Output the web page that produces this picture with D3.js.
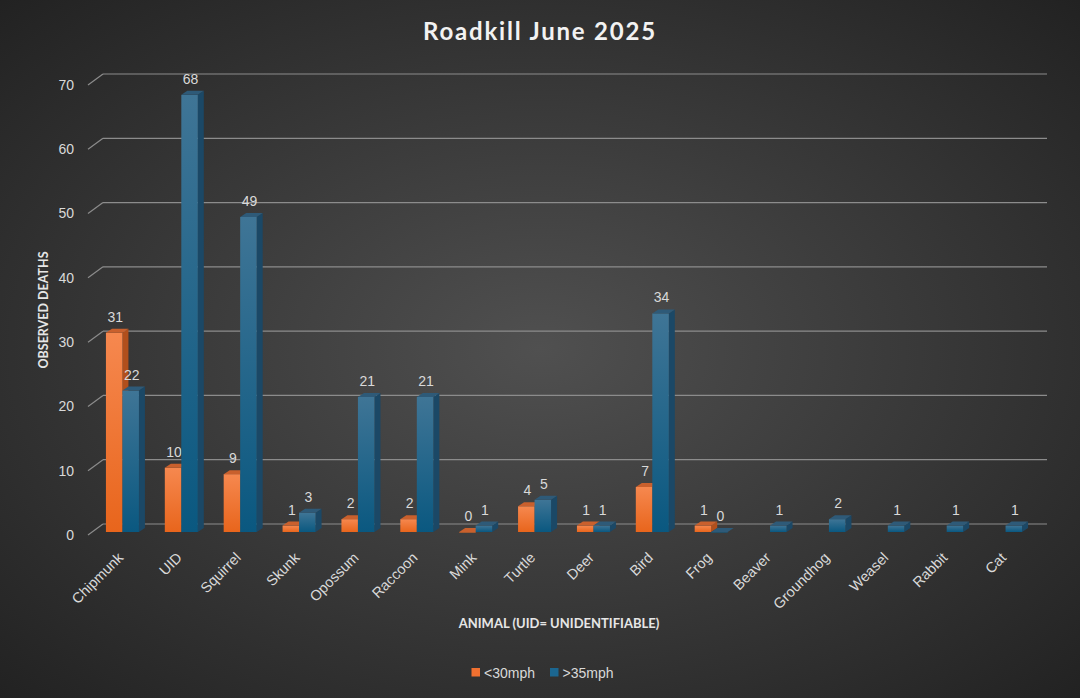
<!DOCTYPE html>
<html>
<head>
<meta charset="utf-8">
<script src="https://cdn.jsdelivr.net/npm/d3@7"></script>
<style>
  html, body { margin: 0; padding: 0; background: #333; }
  svg { display: block; }
</style>
</head>
<body>
<svg id="chart" width="1080" height="698"></svg>
<script>
const animals = ["Chipmunk", "UID", "Squirrel", "Skunk", "Opossum", "Raccoon", "Mink", "Turtle",
  "Deer", "Bird", "Frog", "Beaver", "Groundhog", "Weasel", "Rabbit", "Cat"];
const slow = [31, 10, 9, 1, 2, 2, 0, 4, 1, 7, 1, null, null, null, null, null];   // <30mph
const fast = [22, 68, 49, 3, 21, 21, 1, 5, 1, 34, 0, 1, 2, 1, 1, 1];           // >35mph
const yTicks = [0, 10, 20, 30, 40, 50, 60, 70];
const seriesNames = ["<30mph", ">35mph"];

const W = 1080, H = 698;
const svg = d3.select("#chart");
const defs = svg.append("defs");

// background
const bg = defs.append("radialGradient").attr("id", "bg")
  .attr("cx", "50%").attr("cy", "50%").attr("r", "72%");
bg.append("stop").attr("offset", "0%").attr("stop-color", "#505050");
bg.append("stop").attr("offset", "100%").attr("stop-color", "#212121");
svg.append("rect").attr("width", W).attr("height", H).attr("fill", "url(#bg)");

function vgrad(id, top, bottom) {
  const g = defs.append("linearGradient").attr("id", id)
    .attr("x1", 0).attr("y1", 0).attr("x2", 0).attr("y2", 1);
  g.append("stop").attr("offset", "0%").attr("stop-color", top);
  g.append("stop").attr("offset", "100%").attr("stop-color", bottom);
}
vgrad("orangeFront", "#f6884f", "#e8651c");
vgrad("blueFront", "#3f7596", "#0a5880");

const colors = [
  { front: "url(#orangeFront)", side: "#b14f1c", top: "#c9602d", key: "#f07030" },
  { front: "url(#blueFront)", side: "#1b4866", top: "#2e5a78", key: "#1b6690" }
];

// back wall scale, and offsets to the front of the floor
const y = d3.scaleLinear().domain([0, 70]).range([524, 74]);
const wallX0 = 103, wallX1 = 1047;
const floorDx = -15, floorDy = 11;
const barDy = 8;              // bars stand a little in front of the wall
const depthX = 6, depthY = -4;

const x = d3.scaleBand().domain(animals).range([93, 1035]);
const barW = 16.5;

const labelFont = "Liberation Sans, Arial, sans-serif";
const titleFont = "Lato, Open Sans, sans-serif";

// gridlines
const grid = svg.append("g");
yTicks.forEach(t => {
  grid.append("line")
    .attr("x1", wallX0).attr("x2", wallX1).attr("y1", y(t)).attr("y2", y(t))
    .attr("stroke", "#8c8c8c").attr("stroke-width", 1.2);
  grid.append("line")
    .attr("x1", wallX0 + floorDx).attr("y1", y(t) + floorDy)
    .attr("x2", wallX0).attr("y2", y(t))
    .attr("stroke", "#8c8c8c").attr("stroke-width", 1.2);
  grid.append("text")
    .attr("x", 74).attr("y", y(t) + floorDy).attr("dy", "0.35em")
    .attr("text-anchor", "end")
    .attr("font-family", labelFont).attr("font-size", 14)
    .attr("fill", "#d9d9d9").text(t);
});

// bars
const bars = svg.append("g");
[slow, fast].forEach((series, si) => {
  const c = colors[si];
  series.forEach((v, i) => {
    if (v === null) return;
    const x0 = x(animals[i]) + x.bandwidth() / 2 - barW + si * barW;
    const x1 = x0 + barW;
    const yb = y(0) + barDy;
    const yt = y(v) + barDy;
    const g = bars.append("g");
    // side face
    g.append("path")
      .attr("d", `M${x1},${yt}L${x1 + depthX},${yt + depthY}L${x1 + depthX},${yb + depthY}L${x1},${yb}Z`)
      .attr("fill", c.side);
    // front face
    g.append("rect")
      .attr("x", x0).attr("y", yt).attr("width", barW).attr("height", Math.max(0.6, yb - yt))
      .attr("fill", c.front);
    // top face
    g.append("path")
      .attr("d", `M${x0},${yt}L${x0 + depthX},${yt + depthY}L${x1 + depthX},${yt + depthY}L${x1},${yt}Z`)
      .attr("fill", c.top);
    // value label
    g.append("text")
      .attr("x", (x0 + x1) / 2 + 1).attr("y", yt - 11)
      .attr("text-anchor", "middle")
      .attr("font-family", labelFont).attr("font-size", 14)
      .attr("fill", "#d9d9d9").text(v);
  });
});

// category labels
const xl = svg.append("g");
animals.forEach(a => {
  const cx = x(a) + x.bandwidth() / 2 - 2;
  const cy = 555;
  xl.append("text")
    .attr("transform", `translate(${cx},${cy}) rotate(-45)`)
    .attr("text-anchor", "end").attr("dy", "0.35em")
    .attr("font-family", labelFont).attr("font-size", 14.5)
    .attr("fill", "#d9d9d9").text(a);
});

// titles
svg.append("text")
  .attr("x", 540).attr("y", 40).attr("text-anchor", "middle")
  .attr("font-family", titleFont).attr("font-weight", 700)
  .attr("font-size", 24).attr("letter-spacing", 1.8)
  .attr("fill", "#f2f2f2").text("Roadkill June 2025");

svg.append("text")
  .attr("transform", "translate(48,310) rotate(-90)")
  .attr("text-anchor", "middle")
  .attr("font-family", titleFont).attr("font-weight", 700)
  .attr("font-size", 12.5).attr("fill", "#e6e6e6").text("OBSERVED DEATHS");

svg.append("text")
  .attr("x", 559).attr("y", 628).attr("text-anchor", "middle")
  .attr("font-family", titleFont).attr("font-weight", 700)
  .attr("font-size", 13).attr("fill", "#e6e6e6").text("ANIMAL (UID= UNIDENTIFIABLE)");

// legend
const legend = svg.append("g");
const legendX = [471.5, 550];
seriesNames.forEach((n, i) => {
  legend.append("rect")
    .attr("x", legendX[i]).attr("y", 668).attr("width", 8.5).attr("height", 8.5)
    .attr("fill", colors[i].key);
  legend.append("text")
    .attr("x", legendX[i] + 12.5).attr("y", 677.5)
    .attr("font-family", labelFont).attr("font-size", 14)
    .attr("fill", "#d9d9d9").text(n);
});
</script>
</body>
</html>
